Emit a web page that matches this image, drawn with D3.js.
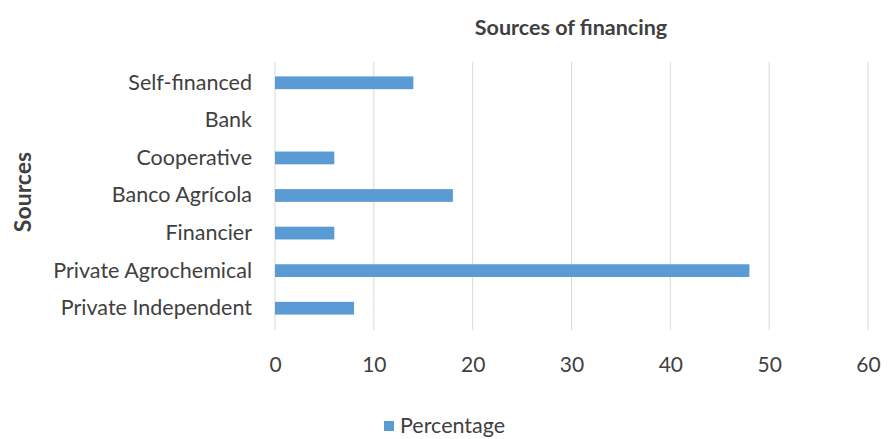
<!DOCTYPE html>
<html>
<head>
<meta charset="utf-8">
<script src="https://cdn.jsdelivr.net/npm/d3@7"></script>
<style>
    body { margin: 0; background: #fff; }
    #chart { width: 889px; height: 439px; }
    text { font-family: Lato, "Open Sans", sans-serif; fill: #404040; }
</style>
</head>
<body>
<div id="chart"></div>
<script>
var categories = ["Self-financed", "Bank", "Cooperative", "Banco Agrícola", "Financier", "Private Agrochemical", "Private Independent"];
var percentage = [14, 0, 6, 18, 6, 48, 8];
var xTicks = [0, 10, 20, 30, 40, 50, 60];

var data = categories.map(function(c, i) { return {source: c, value: percentage[i]}; });

var width = 889;
var height = 439;
var margin = {top: 64, left: 275, right: 21, bottom: 112};

var svg = d3.select("#chart")
    .append("svg")
    .attr("width", width)
    .attr("height", height);

var xScale = d3.scaleLinear()
    .domain([0, 60])
    .range([margin.left, width - margin.right]);

var yScale = d3.scaleBand()
    .domain(categories)
    .range([margin.top, height - margin.bottom])
    .paddingInner(0.66)
    .paddingOuter(0.33);

// gridlines
svg.append("g")
    .selectAll("line")
    .data(xTicks)
    .enter()
    .append("line")
        .attr("x1", function(d) { return xScale(d); })
        .attr("x2", function(d) { return xScale(d); })
        .attr("y1", margin.top - 2)
        .attr("y2", height - margin.bottom + 3)
        .attr("stroke", "#d9d9d9")
        .attr("stroke-width", 1);

var bars = svg.selectAll("rect.bar")
    .data(data)
    .enter()
    .append("rect")
        .attr("class", "bar")
        .attr("x", xScale(0))
        .attr("y", function(d) { return yScale(d.source); })
        .attr("width", function(d) { return xScale(d.value) - xScale(0); })
        .attr("height", yScale.bandwidth())
        .attr("fill", "#5b9bd5");

var xAxis = svg.append("g")
    .attr("transform", `translate(0,${height - margin.bottom})`)
    .call(d3.axisBottom(xScale).tickValues(xTicks).tickSize(0).tickPadding(30));
xAxis.select(".domain").remove();
xAxis.selectAll("text")
    .style("font-size", "21px")
    .attr("fill", "#404040");

var yAxis = svg.append("g")
    .attr("transform", `translate(${margin.left},0)`)
    .call(d3.axisLeft(yScale).tickSize(0).tickPadding(23));
yAxis.select(".domain").remove();
yAxis.selectAll("text")
    .style("font-size", "21.5px")
    .attr("fill", "#404040");

svg.append("text")
    .attr("x", 571)
    .attr("y", 35)
    .attr("text-anchor", "middle")
    .style("font-size", "21.5px")
    .style("font-weight", "bold")
    .attr("fill", "#000")
    .text("Sources of financing");

svg.append("text")
    .attr("transform", "rotate(-90)")
    .attr("x", -192)
    .attr("y", 31)
    .attr("text-anchor", "middle")
    .style("font-size", "23px")
    .style("font-weight", "bold")
    .attr("fill", "#000")
    .text("Sources");

// legend
var legend = svg.append("g").attr("transform", "translate(384,421)");
legend.append("rect")
    .attr("width", 10)
    .attr("height", 10)
    .attr("fill", "#5b9bd5");
legend.append("text")
    .attr("x", 16)
    .attr("y", 12)
    .style("font-size", "21.5px")
    .attr("fill", "#404040")
    .text("Percentage");
</script>
</body>
</html>
